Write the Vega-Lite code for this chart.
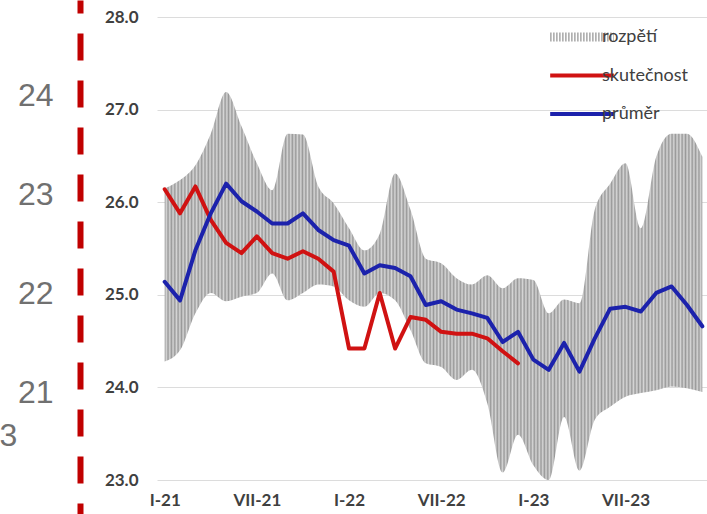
{
  "$schema": "https://vega.github.io/schema/vega-lite/v6.json",
  "width": 553,
  "height": 463,
  "autosize": {"type": "none"},
  "padding": {"left": 157, "top": 17, "right": 0, "bottom": 34},
  "background": "white",
  "config": {"view": {"stroke": null}, "font": "Lato"},
  "data": {
    "values": [
      {"month": "I-21", "sk": 26.14, "pr": 25.14, "lo": 24.28, "hi": 26.15},
      {"month": "II-21", "sk": 25.88, "pr": 24.94, "lo": 24.40, "hi": 26.24},
      {"month": "III-21", "sk": 26.17, "pr": 25.48, "lo": 24.80, "hi": 26.40},
      {"month": "IV-21", "sk": 25.81, "pr": 25.88, "lo": 25.02, "hi": 26.74},
      {"month": "V-21", "sk": 25.56, "pr": 26.20, "lo": 24.93, "hi": 27.19},
      {"month": "VI-21", "sk": 25.45, "pr": 26.01, "lo": 24.98, "hi": 26.82},
      {"month": "VII-21", "sk": 25.63, "pr": 25.90, "lo": 25.02, "hi": 26.42},
      {"month": "VIII-21", "sk": 25.45, "pr": 25.77, "lo": 25.23, "hi": 26.13},
      {"month": "IX-21", "sk": 25.39, "pr": 25.77, "lo": 24.94, "hi": 26.74},
      {"month": "X-21", "sk": 25.47, "pr": 25.88, "lo": 25.02, "hi": 26.73},
      {"month": "XI-21", "sk": 25.39, "pr": 25.70, "lo": 25.11, "hi": 26.17},
      {"month": "XII-21", "sk": 25.25, "pr": 25.59, "lo": 25.09, "hi": 25.99},
      {"month": "I-22", "sk": 24.42, "pr": 25.53, "lo": 24.94, "hi": 25.72},
      {"month": "II-22", "sk": 24.42, "pr": 25.23, "lo": 24.87, "hi": 25.48},
      {"month": "III-22", "sk": 25.02, "pr": 25.32, "lo": 25.02, "hi": 25.66},
      {"month": "IV-22", "sk": 24.42, "pr": 25.29, "lo": 24.94, "hi": 26.31},
      {"month": "V-22", "sk": 24.76, "pr": 25.20, "lo": 24.62, "hi": 25.92},
      {"month": "VI-22", "sk": 24.73, "pr": 24.89, "lo": 24.26, "hi": 25.39},
      {"month": "VII-22", "sk": 24.60, "pr": 24.93, "lo": 24.22, "hi": 25.34},
      {"month": "VIII-22", "sk": 24.58, "pr": 24.84, "lo": 24.08, "hi": 25.18},
      {"month": "IX-22", "sk": 24.58, "pr": 24.80, "lo": 24.19, "hi": 25.11},
      {"month": "X-22", "sk": 24.53, "pr": 24.75, "lo": 23.83, "hi": 25.21},
      {"month": "XI-22", "sk": 24.39, "pr": 24.49, "lo": 23.08, "hi": 25.07},
      {"month": "XII-22", "sk": 24.26, "pr": 24.60, "lo": 23.49, "hi": 25.18},
      {"month": "I-23", "sk": null, "pr": 24.30, "lo": 23.16, "hi": 25.16},
      {"month": "II-23", "sk": null, "pr": 24.19, "lo": 23.00, "hi": 24.80},
      {"month": "III-23", "sk": null, "pr": 24.48, "lo": 23.68, "hi": 24.95},
      {"month": "IV-23", "sk": null, "pr": 24.17, "lo": 23.10, "hi": 24.91},
      {"month": "V-23", "sk": null, "pr": 24.53, "lo": 23.65, "hi": 25.92},
      {"month": "VI-23", "sk": null, "pr": 24.85, "lo": 23.79, "hi": 26.20},
      {"month": "VII-23", "sk": null, "pr": 24.87, "lo": 23.90, "hi": 26.42},
      {"month": "VIII-23", "sk": null, "pr": 24.82, "lo": 23.94, "hi": 25.72},
      {"month": "IX-23", "sk": null, "pr": 25.02, "lo": 23.97, "hi": 26.49},
      {"month": "X-23", "sk": null, "pr": 25.09, "lo": 24.01, "hi": 26.74},
      {"month": "XI-23", "sk": null, "pr": 24.89, "lo": 23.99, "hi": 26.74},
      {"month": "XII-23", "sk": null, "pr": 24.66, "lo": 23.95, "hi": 26.49}
    ]
  },
  "resolve": {"scale": {"y": "independent"}, "axis": {"y": "independent"}},
  "layer": [
    {
      "mark": {"type": "point", "opacity": 0},
      "encoding": {
        "y": {
          "datum": 22,
          "type": "quantitative",
          "scale": {"domain": [19.768, 24.96], "range": [497, -17], "nice": false, "zero": false},
          "axis": {
            "orient": "left",
            "offset": 77,
            "values": [21, 22, 23, 24, 25],
            "grid": false,
            "ticks": false,
            "tickSize": 0,
            "domain": true,
            "domainColor": "#c00000",
            "domainWidth": 6,
            "domainDash": [27, 20],
            "domainDashOffset": 16,
            "labelFont": "Liberation Sans",
            "labelFontSize": 32,
            "labelColor": "#707070",
            "labelPadding": 27,
            "labelOverlap": false,
            "labelBound": false,
            "labelFlush": false,
            "title": "3",
            "titleFont": "Liberation Sans",
            "titleFontSize": 32,
            "titleFontWeight": "normal",
            "titleColor": "#707070",
            "titleAngle": 0,
            "titleAlign": "center",
            "titleBaseline": "middle",
            "titleX": -72,
            "titleY": 418
          }
        }
      }
    },
    {
      "encoding": {
        "x": {
          "field": "month",
          "type": "ordinal",
          "sort": null,
          "scale": {"type": "point", "padding": 0.5},
          "axis": {
            "values": ["I-21", "VII-21", "I-22", "VII-22", "I-23", "VII-23"],
            "labelAngle": 0,
            "labelFont": "Lato",
            "labelFontWeight": "bold",
            "labelFontSize": 17,
            "labelColor": "#404040",
            "labelPadding": 12,
            "ticks": false,
            "domain": false,
            "grid": false,
            "title": null
          }
        }
      },
      "layer": [
        {
          "mark": {
            "type": "area",
            "interpolate": "monotone",
            "opacity": 1,
            "fill": {
              "gradient": "linear",
              "x1": 0, "y1": 0, "x2": 1, "y2": 0,
              "stops": [
                {"offset": 0, "color": "#999"}, {"offset": 0.0031, "color": "#d6d6d6"}, {"offset": 0.0063, "color": "#999"}, {"offset": 0.0094, "color": "#d6d6d6"}, {"offset": 0.0125, "color": "#999"}, {"offset": 0.0156, "color": "#d6d6d6"}, {"offset": 0.0188, "color": "#999"}, {"offset": 0.0219, "color": "#d6d6d6"},
                {"offset": 0.025, "color": "#999"}, {"offset": 0.0281, "color": "#d6d6d6"}, {"offset": 0.0313, "color": "#999"}, {"offset": 0.0344, "color": "#d6d6d6"}, {"offset": 0.0375, "color": "#999"}, {"offset": 0.0406, "color": "#d6d6d6"}, {"offset": 0.0438, "color": "#999"}, {"offset": 0.0469, "color": "#d6d6d6"},
                {"offset": 0.05, "color": "#999"}, {"offset": 0.0531, "color": "#d6d6d6"}, {"offset": 0.0563, "color": "#999"}, {"offset": 0.0594, "color": "#d6d6d6"}, {"offset": 0.0625, "color": "#999"}, {"offset": 0.0656, "color": "#d6d6d6"}, {"offset": 0.0688, "color": "#999"}, {"offset": 0.0719, "color": "#d6d6d6"},
                {"offset": 0.075, "color": "#999"}, {"offset": 0.0781, "color": "#d6d6d6"}, {"offset": 0.0813, "color": "#999"}, {"offset": 0.0844, "color": "#d6d6d6"}, {"offset": 0.0875, "color": "#999"}, {"offset": 0.0906, "color": "#d6d6d6"}, {"offset": 0.0938, "color": "#999"}, {"offset": 0.0969, "color": "#d6d6d6"},
                {"offset": 0.1, "color": "#999"}, {"offset": 0.1031, "color": "#d6d6d6"}, {"offset": 0.1063, "color": "#999"}, {"offset": 0.1094, "color": "#d6d6d6"}, {"offset": 0.1125, "color": "#999"}, {"offset": 0.1156, "color": "#d6d6d6"}, {"offset": 0.1188, "color": "#999"}, {"offset": 0.1219, "color": "#d6d6d6"},
                {"offset": 0.125, "color": "#999"}, {"offset": 0.1281, "color": "#d6d6d6"}, {"offset": 0.1313, "color": "#999"}, {"offset": 0.1344, "color": "#d6d6d6"}, {"offset": 0.1375, "color": "#999"}, {"offset": 0.1406, "color": "#d6d6d6"}, {"offset": 0.1438, "color": "#999"}, {"offset": 0.1469, "color": "#d6d6d6"},
                {"offset": 0.15, "color": "#999"}, {"offset": 0.1531, "color": "#d6d6d6"}, {"offset": 0.1563, "color": "#999"}, {"offset": 0.1594, "color": "#d6d6d6"}, {"offset": 0.1625, "color": "#999"}, {"offset": 0.1656, "color": "#d6d6d6"}, {"offset": 0.1688, "color": "#999"}, {"offset": 0.1719, "color": "#d6d6d6"},
                {"offset": 0.175, "color": "#999"}, {"offset": 0.1781, "color": "#d6d6d6"}, {"offset": 0.1813, "color": "#999"}, {"offset": 0.1844, "color": "#d6d6d6"}, {"offset": 0.1875, "color": "#999"}, {"offset": 0.1906, "color": "#d6d6d6"}, {"offset": 0.1938, "color": "#999"}, {"offset": 0.1969, "color": "#d6d6d6"},
                {"offset": 0.2, "color": "#999"}, {"offset": 0.2031, "color": "#d6d6d6"}, {"offset": 0.2063, "color": "#999"}, {"offset": 0.2094, "color": "#d6d6d6"}, {"offset": 0.2125, "color": "#999"}, {"offset": 0.2156, "color": "#d6d6d6"}, {"offset": 0.2188, "color": "#999"}, {"offset": 0.2219, "color": "#d6d6d6"},
                {"offset": 0.225, "color": "#999"}, {"offset": 0.2281, "color": "#d6d6d6"}, {"offset": 0.2313, "color": "#999"}, {"offset": 0.2344, "color": "#d6d6d6"}, {"offset": 0.2375, "color": "#999"}, {"offset": 0.2406, "color": "#d6d6d6"}, {"offset": 0.2438, "color": "#999"}, {"offset": 0.2469, "color": "#d6d6d6"},
                {"offset": 0.25, "color": "#999"}, {"offset": 0.2531, "color": "#d6d6d6"}, {"offset": 0.2563, "color": "#999"}, {"offset": 0.2594, "color": "#d6d6d6"}, {"offset": 0.2625, "color": "#999"}, {"offset": 0.2656, "color": "#d6d6d6"}, {"offset": 0.2688, "color": "#999"}, {"offset": 0.2719, "color": "#d6d6d6"},
                {"offset": 0.275, "color": "#999"}, {"offset": 0.2781, "color": "#d6d6d6"}, {"offset": 0.2813, "color": "#999"}, {"offset": 0.2844, "color": "#d6d6d6"}, {"offset": 0.2875, "color": "#999"}, {"offset": 0.2906, "color": "#d6d6d6"}, {"offset": 0.2938, "color": "#999"}, {"offset": 0.2969, "color": "#d6d6d6"},
                {"offset": 0.3, "color": "#999"}, {"offset": 0.3031, "color": "#d6d6d6"}, {"offset": 0.3063, "color": "#999"}, {"offset": 0.3094, "color": "#d6d6d6"}, {"offset": 0.3125, "color": "#999"}, {"offset": 0.3156, "color": "#d6d6d6"}, {"offset": 0.3188, "color": "#999"}, {"offset": 0.3219, "color": "#d6d6d6"},
                {"offset": 0.325, "color": "#999"}, {"offset": 0.3281, "color": "#d6d6d6"}, {"offset": 0.3313, "color": "#999"}, {"offset": 0.3344, "color": "#d6d6d6"}, {"offset": 0.3375, "color": "#999"}, {"offset": 0.3406, "color": "#d6d6d6"}, {"offset": 0.3438, "color": "#999"}, {"offset": 0.3469, "color": "#d6d6d6"},
                {"offset": 0.35, "color": "#999"}, {"offset": 0.3531, "color": "#d6d6d6"}, {"offset": 0.3563, "color": "#999"}, {"offset": 0.3594, "color": "#d6d6d6"}, {"offset": 0.3625, "color": "#999"}, {"offset": 0.3656, "color": "#d6d6d6"}, {"offset": 0.3688, "color": "#999"}, {"offset": 0.3719, "color": "#d6d6d6"},
                {"offset": 0.375, "color": "#999"}, {"offset": 0.3781, "color": "#d6d6d6"}, {"offset": 0.3813, "color": "#999"}, {"offset": 0.3844, "color": "#d6d6d6"}, {"offset": 0.3875, "color": "#999"}, {"offset": 0.3906, "color": "#d6d6d6"}, {"offset": 0.3938, "color": "#999"}, {"offset": 0.3969, "color": "#d6d6d6"},
                {"offset": 0.4, "color": "#999"}, {"offset": 0.4031, "color": "#d6d6d6"}, {"offset": 0.4063, "color": "#999"}, {"offset": 0.4094, "color": "#d6d6d6"}, {"offset": 0.4125, "color": "#999"}, {"offset": 0.4156, "color": "#d6d6d6"}, {"offset": 0.4188, "color": "#999"}, {"offset": 0.4219, "color": "#d6d6d6"},
                {"offset": 0.425, "color": "#999"}, {"offset": 0.4281, "color": "#d6d6d6"}, {"offset": 0.4313, "color": "#999"}, {"offset": 0.4344, "color": "#d6d6d6"}, {"offset": 0.4375, "color": "#999"}, {"offset": 0.4406, "color": "#d6d6d6"}, {"offset": 0.4438, "color": "#999"}, {"offset": 0.4469, "color": "#d6d6d6"},
                {"offset": 0.45, "color": "#999"}, {"offset": 0.4531, "color": "#d6d6d6"}, {"offset": 0.4563, "color": "#999"}, {"offset": 0.4594, "color": "#d6d6d6"}, {"offset": 0.4625, "color": "#999"}, {"offset": 0.4656, "color": "#d6d6d6"}, {"offset": 0.4688, "color": "#999"}, {"offset": 0.4719, "color": "#d6d6d6"},
                {"offset": 0.475, "color": "#999"}, {"offset": 0.4781, "color": "#d6d6d6"}, {"offset": 0.4813, "color": "#999"}, {"offset": 0.4844, "color": "#d6d6d6"}, {"offset": 0.4875, "color": "#999"}, {"offset": 0.4906, "color": "#d6d6d6"}, {"offset": 0.4938, "color": "#999"}, {"offset": 0.4969, "color": "#d6d6d6"},
                {"offset": 0.5, "color": "#999"}, {"offset": 0.5031, "color": "#d6d6d6"}, {"offset": 0.5063, "color": "#999"}, {"offset": 0.5094, "color": "#d6d6d6"}, {"offset": 0.5125, "color": "#999"}, {"offset": 0.5156, "color": "#d6d6d6"}, {"offset": 0.5188, "color": "#999"}, {"offset": 0.5219, "color": "#d6d6d6"},
                {"offset": 0.525, "color": "#999"}, {"offset": 0.5281, "color": "#d6d6d6"}, {"offset": 0.5313, "color": "#999"}, {"offset": 0.5344, "color": "#d6d6d6"}, {"offset": 0.5375, "color": "#999"}, {"offset": 0.5406, "color": "#d6d6d6"}, {"offset": 0.5438, "color": "#999"}, {"offset": 0.5469, "color": "#d6d6d6"},
                {"offset": 0.55, "color": "#999"}, {"offset": 0.5531, "color": "#d6d6d6"}, {"offset": 0.5563, "color": "#999"}, {"offset": 0.5594, "color": "#d6d6d6"}, {"offset": 0.5625, "color": "#999"}, {"offset": 0.5656, "color": "#d6d6d6"}, {"offset": 0.5688, "color": "#999"}, {"offset": 0.5719, "color": "#d6d6d6"},
                {"offset": 0.575, "color": "#999"}, {"offset": 0.5781, "color": "#d6d6d6"}, {"offset": 0.5813, "color": "#999"}, {"offset": 0.5844, "color": "#d6d6d6"}, {"offset": 0.5875, "color": "#999"}, {"offset": 0.5906, "color": "#d6d6d6"}, {"offset": 0.5938, "color": "#999"}, {"offset": 0.5969, "color": "#d6d6d6"},
                {"offset": 0.6, "color": "#999"}, {"offset": 0.6031, "color": "#d6d6d6"}, {"offset": 0.6063, "color": "#999"}, {"offset": 0.6094, "color": "#d6d6d6"}, {"offset": 0.6125, "color": "#999"}, {"offset": 0.6156, "color": "#d6d6d6"}, {"offset": 0.6188, "color": "#999"}, {"offset": 0.6219, "color": "#d6d6d6"},
                {"offset": 0.625, "color": "#999"}, {"offset": 0.6281, "color": "#d6d6d6"}, {"offset": 0.6313, "color": "#999"}, {"offset": 0.6344, "color": "#d6d6d6"}, {"offset": 0.6375, "color": "#999"}, {"offset": 0.6406, "color": "#d6d6d6"}, {"offset": 0.6438, "color": "#999"}, {"offset": 0.6469, "color": "#d6d6d6"},
                {"offset": 0.65, "color": "#999"}, {"offset": 0.6531, "color": "#d6d6d6"}, {"offset": 0.6563, "color": "#999"}, {"offset": 0.6594, "color": "#d6d6d6"}, {"offset": 0.6625, "color": "#999"}, {"offset": 0.6656, "color": "#d6d6d6"}, {"offset": 0.6688, "color": "#999"}, {"offset": 0.6719, "color": "#d6d6d6"},
                {"offset": 0.675, "color": "#999"}, {"offset": 0.6781, "color": "#d6d6d6"}, {"offset": 0.6813, "color": "#999"}, {"offset": 0.6844, "color": "#d6d6d6"}, {"offset": 0.6875, "color": "#999"}, {"offset": 0.6906, "color": "#d6d6d6"}, {"offset": 0.6938, "color": "#999"}, {"offset": 0.6969, "color": "#d6d6d6"},
                {"offset": 0.7, "color": "#999"}, {"offset": 0.7031, "color": "#d6d6d6"}, {"offset": 0.7063, "color": "#999"}, {"offset": 0.7094, "color": "#d6d6d6"}, {"offset": 0.7125, "color": "#999"}, {"offset": 0.7156, "color": "#d6d6d6"}, {"offset": 0.7188, "color": "#999"}, {"offset": 0.7219, "color": "#d6d6d6"},
                {"offset": 0.725, "color": "#999"}, {"offset": 0.7281, "color": "#d6d6d6"}, {"offset": 0.7313, "color": "#999"}, {"offset": 0.7344, "color": "#d6d6d6"}, {"offset": 0.7375, "color": "#999"}, {"offset": 0.7406, "color": "#d6d6d6"}, {"offset": 0.7438, "color": "#999"}, {"offset": 0.7469, "color": "#d6d6d6"},
                {"offset": 0.75, "color": "#999"}, {"offset": 0.7531, "color": "#d6d6d6"}, {"offset": 0.7563, "color": "#999"}, {"offset": 0.7594, "color": "#d6d6d6"}, {"offset": 0.7625, "color": "#999"}, {"offset": 0.7656, "color": "#d6d6d6"}, {"offset": 0.7688, "color": "#999"}, {"offset": 0.7719, "color": "#d6d6d6"},
                {"offset": 0.775, "color": "#999"}, {"offset": 0.7781, "color": "#d6d6d6"}, {"offset": 0.7813, "color": "#999"}, {"offset": 0.7844, "color": "#d6d6d6"}, {"offset": 0.7875, "color": "#999"}, {"offset": 0.7906, "color": "#d6d6d6"}, {"offset": 0.7938, "color": "#999"}, {"offset": 0.7969, "color": "#d6d6d6"},
                {"offset": 0.8, "color": "#999"}, {"offset": 0.8031, "color": "#d6d6d6"}, {"offset": 0.8063, "color": "#999"}, {"offset": 0.8094, "color": "#d6d6d6"}, {"offset": 0.8125, "color": "#999"}, {"offset": 0.8156, "color": "#d6d6d6"}, {"offset": 0.8188, "color": "#999"}, {"offset": 0.8219, "color": "#d6d6d6"},
                {"offset": 0.825, "color": "#999"}, {"offset": 0.8281, "color": "#d6d6d6"}, {"offset": 0.8313, "color": "#999"}, {"offset": 0.8344, "color": "#d6d6d6"}, {"offset": 0.8375, "color": "#999"}, {"offset": 0.8406, "color": "#d6d6d6"}, {"offset": 0.8438, "color": "#999"}, {"offset": 0.8469, "color": "#d6d6d6"},
                {"offset": 0.85, "color": "#999"}, {"offset": 0.8531, "color": "#d6d6d6"}, {"offset": 0.8563, "color": "#999"}, {"offset": 0.8594, "color": "#d6d6d6"}, {"offset": 0.8625, "color": "#999"}, {"offset": 0.8656, "color": "#d6d6d6"}, {"offset": 0.8688, "color": "#999"}, {"offset": 0.8719, "color": "#d6d6d6"},
                {"offset": 0.875, "color": "#999"}, {"offset": 0.8781, "color": "#d6d6d6"}, {"offset": 0.8813, "color": "#999"}, {"offset": 0.8844, "color": "#d6d6d6"}, {"offset": 0.8875, "color": "#999"}, {"offset": 0.8906, "color": "#d6d6d6"}, {"offset": 0.8938, "color": "#999"}, {"offset": 0.8969, "color": "#d6d6d6"},
                {"offset": 0.9, "color": "#999"}, {"offset": 0.9031, "color": "#d6d6d6"}, {"offset": 0.9063, "color": "#999"}, {"offset": 0.9094, "color": "#d6d6d6"}, {"offset": 0.9125, "color": "#999"}, {"offset": 0.9156, "color": "#d6d6d6"}, {"offset": 0.9188, "color": "#999"}, {"offset": 0.9219, "color": "#d6d6d6"},
                {"offset": 0.925, "color": "#999"}, {"offset": 0.9281, "color": "#d6d6d6"}, {"offset": 0.9313, "color": "#999"}, {"offset": 0.9344, "color": "#d6d6d6"}, {"offset": 0.9375, "color": "#999"}, {"offset": 0.9406, "color": "#d6d6d6"}, {"offset": 0.9438, "color": "#999"}, {"offset": 0.9469, "color": "#d6d6d6"},
                {"offset": 0.95, "color": "#999"}, {"offset": 0.9531, "color": "#d6d6d6"}, {"offset": 0.9563, "color": "#999"}, {"offset": 0.9594, "color": "#d6d6d6"}, {"offset": 0.9625, "color": "#999"}, {"offset": 0.9656, "color": "#d6d6d6"}, {"offset": 0.9688, "color": "#999"}, {"offset": 0.9719, "color": "#d6d6d6"},
                {"offset": 0.975, "color": "#999"}, {"offset": 0.9781, "color": "#d6d6d6"}, {"offset": 0.9813, "color": "#999"}, {"offset": 0.9844, "color": "#d6d6d6"}, {"offset": 0.9875, "color": "#999"}, {"offset": 0.9906, "color": "#d6d6d6"}, {"offset": 0.9938, "color": "#999"}, {"offset": 0.9969, "color": "#d6d6d6"},
                {"offset": 1, "color": "#999"}
              ]
            }
          },
          "encoding": {
            "y": {
              "field": "lo",
              "type": "quantitative",
              "scale": {"domain": [23, 28], "nice": false, "zero": false},
              "axis": {
                "orient": "left",
                "values": [23, 24, 25, 26, 27, 28],
                "format": ".1f",
                "grid": true,
                "gridColor": "#dcdcdc",
                "gridWidth": 1,
                "ticks": false,
                "tickSize": 0,
                "domain": false,
                "labelFont": "Lato",
                "labelFontWeight": "bold",
                "labelFontSize": 17,
                "labelColor": "#404040",
                "labelPadding": 19,
                "labelBound": false,
                "labelFlush": false,
                "title": null
              }
            },
            "y2": {"field": "hi"}
          }
        },
        {
          "mark": {"type": "line", "strokeWidth": 4, "strokeJoin": "round", "strokeCap": "round"},
          "encoding": {
            "y": {"field": "sk", "type": "quantitative"},
            "color": {
              "datum": "skutečnost",
              "type": "nominal",
              "scale": {
                "domain": ["rozpětí", "skutečnost", "průměr"],
                "range": ["#a0a0a0", "#d01212", "#1c22ac"]
              },
              "legend": {
                "orient": "none",
                "legendX": 416,
                "legendY": 11,
                "padding": 0,
                "title": null,
                "symbolType": "stroke",
                "symbolSize": 2025,
                "symbolStrokeWidth": 4,
                "rowPadding": 11.5,
                "gridAlign": "all",
                "labelFont": "Lato",
                "labelFontSize": 18,
                "labelColor": "#404040",
                "labelOffset": 11,
                "encode": {
                  "symbols": {
                    "update": {
                      "size": {"value": 4050},
                      "strokeDash": {"signal": "datum.value === 'rozpětí' ? [1.4, 1.6] : [1, 0]"},
                      "strokeWidth": {"signal": "datum.value === 'rozpětí' ? 9 : 4"}
                    }
                  }
                }
              }
            }
          }
        },
        {
          "mark": {"type": "line", "strokeWidth": 4, "strokeJoin": "round", "strokeCap": "round"},
          "encoding": {
            "y": {"field": "pr", "type": "quantitative"},
            "color": {"datum": "průměr", "type": "nominal"}
          }
        }
      ]
    }
  ]
}
